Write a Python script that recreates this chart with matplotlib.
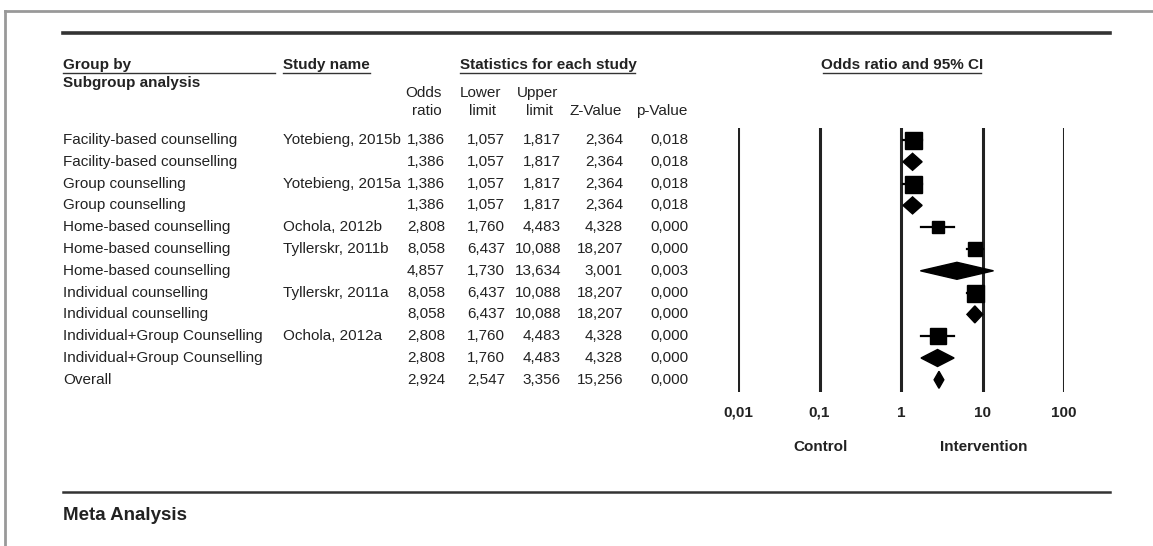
import matplotlib
matplotlib.use("Agg")
import matplotlib.pyplot as plt
from matplotlib.patches import Polygon
from matplotlib.lines import Line2D

plt.rcParams['font.family'] = ['Liberation Sans', 'DejaVu Sans']

# data
groups = ['Facility-based counselling', 'Facility-based counselling',
          'Group counselling', 'Group counselling',
          'Home-based counselling', 'Home-based counselling', 'Home-based counselling',
          'Individual counselling', 'Individual counselling',
          'Individual+Group Counselling', 'Individual+Group Counselling',
          'Overall']
studies = ['Yotebieng, 2015b', '', 'Yotebieng, 2015a', '',
           'Ochola, 2012b', 'Tyllerskr, 2011b', '',
           'Tyllerskr, 2011a', '', 'Ochola, 2012a', '', '']
odds = [1.386, 1.386, 1.386, 1.386, 2.808, 8.058, 4.857, 8.058, 8.058, 2.808, 2.808, 2.924]
lower = [1.057, 1.057, 1.057, 1.057, 1.760, 6.437, 1.730, 6.437, 6.437, 1.760, 1.760, 2.547]
upper = [1.817, 1.817, 1.817, 1.817, 4.483, 10.088, 13.634, 10.088, 10.088, 4.483, 4.483, 3.356]
zval = [2.364, 2.364, 2.364, 2.364, 4.328, 18.207, 3.001, 18.207, 18.207, 4.328, 4.328, 15.256]
pval = [0.018, 0.018, 0.018, 0.018, 0.000, 0.000, 0.003, 0.000, 0.000, 0.000, 0.000, 0.000]
is_summary = [False, True, False, True, False, False, True, False, True, False, True, True]
box_px = [17, 0, 17, 0, 12, 14, 0, 17, 0, 16, 0, 0]   # relative weight boxes
ticks = [0.01, 0.1, 1, 10, 100]
tick_labels = ['0,01', '0,1', '1', '10', '100']

W, H = 1153, 546
FS = 11
fig = plt.figure(figsize=(W / 100, H / 100), dpi=100)


def fx(x):
    return x / W


def fy(y):
    return 1 - y / H


def txt(x, y, s, ha='left', **kw):
    kw.setdefault('fontsize', FS)
    fig.text(fx(x), fy(y), s, ha=ha, va='center', color='#222222', **kw)


def hline(x0, x1, y, lw=1.0, color='#333333'):
    fig.add_artist(Line2D([fx(x0), fx(x1)], [fy(y), fy(y)], lw=lw, color=color,
                          transform=fig.transFigure))


def comma(v):
    return f"{v:.3f}".replace('.', ',')


# page frame
fig.add_artist(Line2D([fx(5), fx(5)], [fy(11), 0], lw=2, color='#999999', transform=fig.transFigure))
fig.add_artist(Line2D([fx(5), 1], [fy(11), fy(11)], lw=2, color='#999999', transform=fig.transFigure))

# rules
hline(63, 1110, 33, lw=2.6)
hline(63, 1110, 492, lw=1.8)

# headers
txt(63, 65, 'Group by', fontweight='bold')
hline(63, 275, 73, lw=1)
txt(63, 83, 'Subgroup analysis', fontweight='bold')
txt(283, 65, 'Study name', fontweight='bold')
hline(283, 370, 73, lw=1)
txt(548, 65, 'Statistics for each study', ha='center', fontweight='bold')
hline(460, 635, 73, lw=1)
txt(902, 65, 'Odds ratio and 95% CI', ha='center', fontweight='bold')
hline(823, 981, 73, lw=1)

hdr_x1 = [442, 501, 558, 622, 687]
hdr_x2 = [442, 496, 553, 622, 687]
hdr1 = ['Odds', 'Lower', 'Upper', '', '']
hdr2 = ['ratio', 'limit', 'limit', 'Z-Value', 'p-Value']
for a_x, b_x, a, b in zip(hdr_x1, hdr_x2, hdr1, hdr2):
    txt(a_x, 93, a, ha='right')
    txt(b_x, 111, b, ha='right')

# table rows
col_x = [445, 505, 561, 623, 688]
row_y0, row_dy = 140, 21.8
for i in range(len(groups)):
    y = row_y0 + i * row_dy
    txt(63, y, groups[i])
    txt(283, y, studies[i])
    vals = [comma(odds[i]), comma(lower[i]), comma(upper[i]), comma(zval[i]), comma(pval[i])]
    for cx, v in zip(col_x, vals):
        txt(cx, y, v, ha='right')

# forest plot axes (log scale)
top_row, bot_row = -0.55, 11.55
ax_top = row_y0 + top_row * row_dy
ax_bot = row_y0 + bot_row * row_dy
ax = fig.add_axes([fx(738), fy(ax_bot), fx(1064 - 738), (ax_bot - ax_top) / H])
ax.set_xscale('log')
ax.set_xlim(0.01, 100)
ax.set_ylim(bot_row, top_row)
for t in ticks:
    ax.axvline(t, color='#222222', lw=2.2, zorder=1)
for s in ax.spines.values():
    s.set_visible(False)
ax.set_yticks([])
ax.set_xticks(ticks)
ax.set_xticklabels(tick_labels, fontsize=FS, fontweight='bold', color='#222222')
ax.minorticks_off()
ax.tick_params(axis='x', length=0, pad=10)
ax.patch.set_alpha(0)

for i in range(len(odds)):
    if is_summary[i]:
        h = 0.39
        poly = Polygon([(lower[i], i), (odds[i], i - h), (upper[i], i), (odds[i], i + h)],
                       closed=True, color='black', zorder=3)
        ax.add_patch(poly)
    else:
        ax.plot([lower[i], upper[i]], [i, i], color='black', lw=1.6, zorder=2)
        ax.plot(odds[i], i, marker='s', color='black', markersize=box_px[i] * 72 / 100,
                linestyle='none', zorder=3)

txt(821, 447, 'Control', ha='center', fontweight='bold')
txt(984, 447, 'Intervention', ha='center', fontweight='bold')

txt(63, 515, 'Meta Analysis', fontweight='bold', fontsize=13.5)

fig.savefig('out.png', dpi=100)
